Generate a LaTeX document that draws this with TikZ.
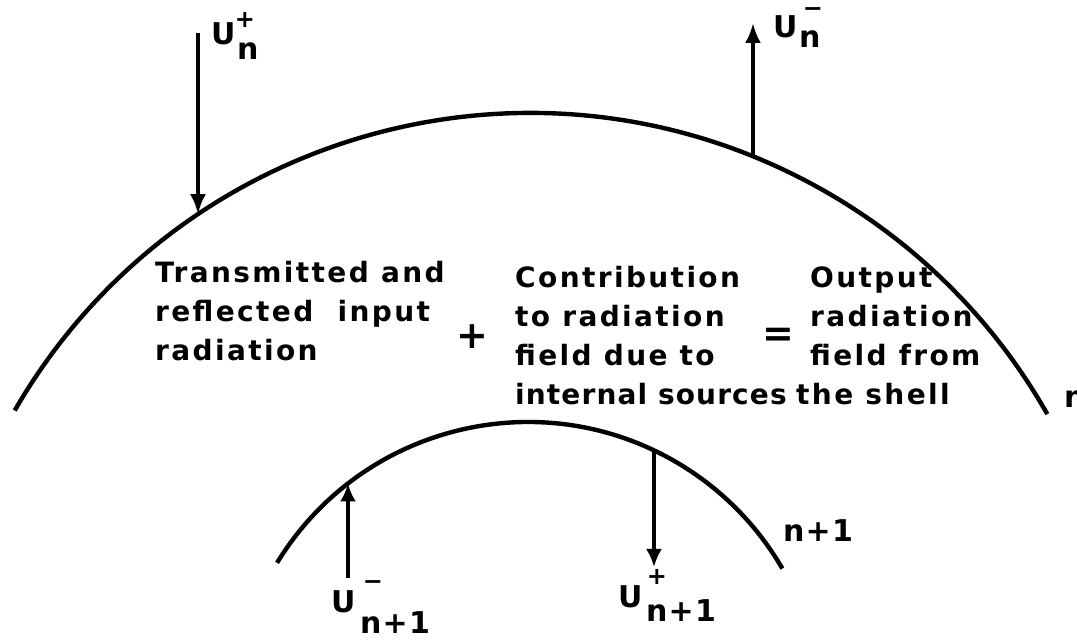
\documentclass[tikz,border=0pt]{standalone}
\usepackage{fontspec}
\setmainfont{DejaVu Sans}[LetterSpace=8.5]
\newfontfamily\labfont{DejaVu Sans}[LetterSpace=4]
\usetikzlibrary{arrows.meta}
\begin{document}
\begin{tikzpicture}[x=1pt,y=1pt,
  shell/.style={line width=4.4pt},
  flux/.style={line width=3.8pt,-{Latex[length=20pt,width=16pt]}},
  smallflux/.style={line width=3.4pt,-{Latex[length=18pt,width=16pt]}},
  block/.style={inner sep=0pt,anchor=base west,font=\bfseries\fontsize{28pt}{39pt}\selectfont},
  op/.style={inner sep=0pt,font=\bfseries\fontsize{38pt}{38pt}\selectfont},
  ulet/.style={inner sep=0pt,anchor=base west,font=\labfont\bfseries\fontsize{30pt}{30pt}\selectfont},
  usign/.style={inner sep=0pt,font=\labfont\bfseries\fontsize{24pt}{24pt}\selectfont}]
\useasboundingbox (0,0) rectangle (1077,640);
\clip (0,0) rectangle (1077,640);
% shells
\coordinate (bigc) at (530,-68);
\coordinate (smallc) at (528,-76);
\draw[shell] (bigc) ++(150:595) arc[start angle=150,end angle=29.6,radius=595];
\draw[shell] (smallc) ++(148.6:294) arc[start angle=148.6,end angle=30.1,radius=294];
% points on shells
\coordinate (inN) at (198,425.8);
\coordinate (outN) at (753,483.6);
\coordinate (outM) at (348,156.5);
\coordinate (inM) at (654,189.6);
\coordinate (inNtop) at (198,607);
\coordinate (outNtop) at (753,617);
\coordinate (outMbot) at (348,62);
\coordinate (inMbot) at (654,73);
% arrows
\draw[flux] (inNtop) -- (inN);
\draw[flux] (outN) -- (outNtop);
\draw[smallflux] (outMbot) -- (outM);
\draw[smallflux] (inM) -- (inMbot);
% labels U_n^+
\node[ulet] (unpU) at (211,595) {U};
\node[ulet] (unpn) at (237,580) {n};
\node[usign] (unps) at (245,620) {+};
% U_n^-
\node[ulet] (unmU) at (773,602) {U};
\node[ulet] (unmn) at (799,592) {n};
\node[usign] (unms) at (813,628) {\textminus};
% U_{n+1}^-
\node[ulet] (ummU) at (331,27) {U};
\node[ulet] (ummn) at (360,6) {n+1};
\node[usign] (umms) at (373,55) {\textminus};
% U_{n+1}^+
\node[ulet] (umpU) at (618,32) {U};
\node[ulet] (umpn) at (646,18) {n+1};
\node[usign] (umps) at (657,63) {+};
% shell labels
\node[ulet] (lblm) at (783,98) {n+1};
\node[ulet] (lbln) at (1064,232) {n};
% text
\node[block] (t1) at (155,357) {\begin{tabular}[t]{@{}l@{}}Transmitted and\\reflected\ \ input\\radiation\end{tabular}};
\node[op] (plus) at (472,303) {+};
\node[block] (t2) at (515,352) {\begin{tabular}[t]{@{}l@{}}Contribution\\to radiation\\field due to\\\addfontfeature{LetterSpace=4}internal sources\end{tabular}};
\node[op] (eq) at (778,303) {=};
\node[block] (t3) at (810,352) {\begin{tabular}[t]{@{}l@{}}Output\\radiation\\field from\\\hspace*{-14pt}the shell\end{tabular}};
\end{tikzpicture}
\end{document}
